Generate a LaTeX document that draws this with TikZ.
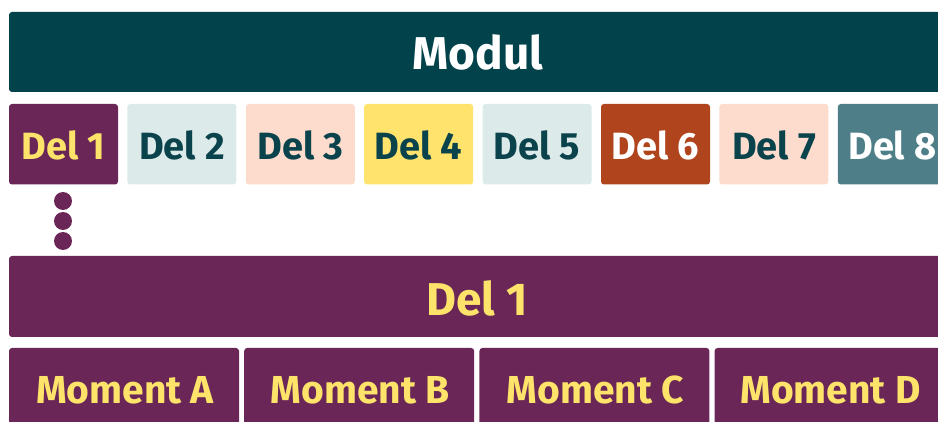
\documentclass[tikz,border=0pt]{standalone}
\usepackage{fontspec}
\setmainfont{Fira Sans}
\definecolor{darkteal}{HTML}{02424A}
\definecolor{plum}{HTML}{692657}
\definecolor{sun}{HTML}{FFE36C}
\definecolor{ice}{HTML}{DCEAEA}
\definecolor{peach}{HTML}{FDDCCD}
\definecolor{rust}{HTML}{B0441C}
\definecolor{slate}{HTML}{4E7F89}
\definecolor{txtdark}{HTML}{0A434B}
\definecolor{txtyellow}{HTML}{FDE36A}
\begin{document}
\begin{tikzpicture}[x=1pt,y=-1pt,
  box/.style={rounded corners=3pt, inner sep=0pt, outer sep=0pt},
  lbl/.style={font=\fontsize{38}{40}\selectfont\bfseries, inner sep=0pt, anchor=center},
  biglbl/.style={font=\fontsize{46}{48}\selectfont\bfseries, inner sep=0pt, anchor=center},
  momlbl/.style={font=\fontsize{39}{41}\selectfont\bfseries, inner sep=0pt, anchor=center},
  dot/.style={circle, fill=plum, minimum size=18pt, inner sep=0pt}]
\useasboundingbox (0,0) rectangle (938,422);
\clip (0,0) rectangle (938,422);
% Modul bar
\fill[box, darkteal] (9,12) rectangle (960,92);
\node[biglbl, text=white] (modul) at (478,52) {Modul};
% Del boxes
\foreach \i/\fc/\tc in {1/plum/txtyellow,2/ice/txtdark,3/peach/txtdark,4/sun/txtdark,5/ice/txtdark,6/rust/white,7/peach/txtdark,8/slate/white}{
  \pgfmathsetmacro{\xl}{9+(\i-1)*118.4}
  \fill[box, \fc] (\xl,104) rectangle ++(109,80.5);
  \node[lbl, text=\tc] (del\i) at (\xl+54.5,145) {Del \i};
}
% dots
\node[dot] (d1) at (63,201) {};
\node[dot] (d2) at (63,221) {};
\node[dot] (d3) at (63,241) {};
% Del 1 bar
\fill[box, plum] (9,256) rectangle (960,337);
\node[biglbl, text=txtyellow] (delbar) at (477,298) {Del 1};
% Moments
\foreach \i/\m in {1/A,2/B,3/C,4/D}{
  \pgfmathsetmacro{\xl}{9+(\i-1)*235.2}
  \fill[box, plum] (\xl,348) rectangle ++(230,90);
  \node[momlbl, text=txtyellow] (mom\m) at (\xl+116,390) {Moment \m};
}
\end{tikzpicture}
\end{document}
